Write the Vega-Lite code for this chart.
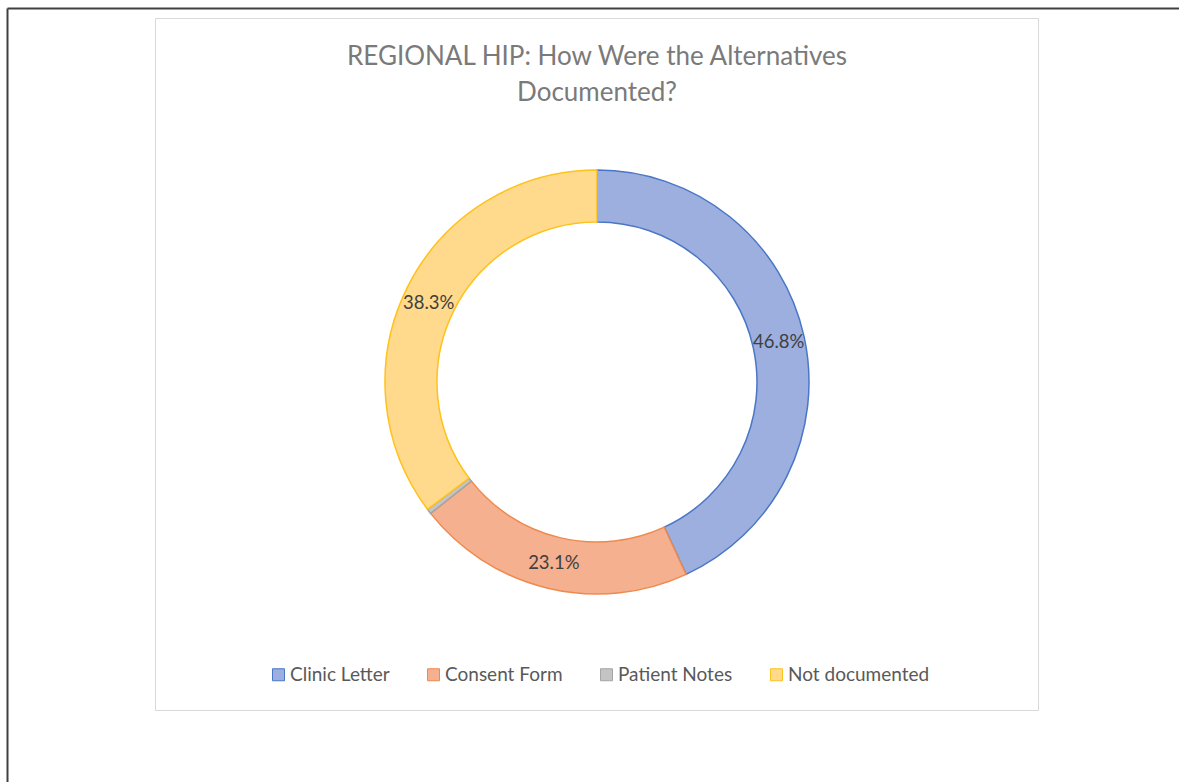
{
  "$schema": "https://vega.github.io/schema/vega-lite/v6.json",
  "autosize": {"type": "none"},
  "padding": {"left": 7, "top": 8, "right": 0, "bottom": 26},
  "width": 1180,
  "height": 748,
  "background": "white",
  "config": {
    "view": {"stroke": null},
    "font": "Lato"
  },
  "title": {
    "text": ["REGIONAL HIP: How Were the Alternatives", "Documented?"],
    "orient": "top",
    "anchor": "middle",
    "frame": "group",
    "baseline": "top",
    "offset": -101,
    "font": "Lato",
    "fontSize": 26,
    "fontWeight": "normal",
    "color": "#7a7a7a",
    "lineHeight": 36
  },
  "data": {
    "values": [
      {"category": "Clinic Letter", "share": 0.468, "rank": 1},
      {"category": "Consent Form", "share": 0.231, "rank": 2},
      {"category": "Patient Notes", "share": 0.004, "rank": 3},
      {"category": "Not documented", "share": 0.383, "rank": 4}
    ]
  },
  "resolve": {
    "scale": {"x": "independent", "y": "independent"},
    "axis": {"x": "independent", "y": "independent"}
  },
  "layer": [
    {
      "mark": {"type": "arc", "innerRadius": 160, "outerRadius": 212, "strokeWidth": 1.5},
      "encoding": {
        "theta": {"field": "share", "type": "quantitative", "stack": true},
        "order": {"field": "rank", "type": "quantitative"},
        "fill": {
          "field": "category",
          "type": "nominal",
          "sort": ["Clinic Letter", "Consent Form", "Patient Notes", "Not documented"],
          "scale": {
            "domain": ["Clinic Letter", "Consent Form", "Patient Notes", "Not documented"],
            "range": ["#9cafdf", "#f4b08f", "#c4c4c4", "#ffd98c"]
          },
          "legend": {
            "orient": "none",
            "direction": "horizontal",
            "legendX": 262,
            "legendY": 657,
            "title": null,
            "symbolType": "square",
            "symbolSize": 144,
            "symbolStrokeWidth": 1,
            "labelFont": "Lato",
            "labelFontSize": 19,
            "labelColor": "#595959",
            "labelOffset": 2,
            "columnPadding": 34
          }
        },
        "stroke": {
          "field": "category",
          "type": "nominal",
          "sort": ["Clinic Letter", "Consent Form", "Patient Notes", "Not documented"],
          "scale": {
            "domain": ["Clinic Letter", "Consent Form", "Patient Notes", "Not documented"],
            "range": ["#4a76c6", "#ee8a4e", "#a5a5a5", "#ffc21a"]
          },
          "legend": {
            "orient": "none",
            "direction": "horizontal",
            "legendX": 262,
            "legendY": 657,
            "title": null,
            "symbolType": "square",
            "symbolSize": 144,
            "symbolStrokeWidth": 1,
            "labelFont": "Lato",
            "labelFontSize": 19,
            "labelColor": "#595959",
            "labelOffset": 2,
            "columnPadding": 34
          }
        }
      }
    },
    {
      "transform": [{"filter": "datum.category != 'Patient Notes'"}],
      "mark": {"type": "text", "radius": 186, "font": "Lato", "fontSize": 18.5, "color": "#404040"},
      "encoding": {
        "theta": {"field": "share", "type": "quantitative", "stack": true},
        "order": {"field": "rank", "type": "quantitative"},
        "text": {"field": "share", "type": "quantitative", "format": ".1%"}
      }
    },
    {
      "mark": {"type": "point", "opacity": 0},
      "encoding": {
        "x": {"datum": 0, "type": "quantitative", "scale": {"domain": [0, 1], "range": [0, 1180]},
          "axis": {"orient": "top", "offset": 0, "domain": true, "domainColor": "#404040", "domainWidth": 2, "ticks": false, "labels": false, "grid": false, "title": null}},
        "y": {"datum": 0, "type": "quantitative", "scale": {"domain": [0, 1], "range": [0, 790]},
          "axis": {"orient": "left", "offset": 0, "domain": true, "domainColor": "#404040", "domainWidth": 2, "ticks": false, "labels": false, "grid": false, "title": null}}
      }
    },
    {
      "mark": {"type": "point", "opacity": 0},
      "encoding": {
        "x": {"datum": 0, "type": "quantitative", "scale": {"domain": [0, 1], "range": [148, 1031]},
          "axis": {"orient": "top", "offset": -10, "domain": true, "domainColor": "#d9d9d9", "domainWidth": 1, "ticks": false, "labels": false, "grid": false, "title": null}},
        "y": {"datum": 0, "type": "quantitative", "scale": {"domain": [0, 1], "range": [10, 702]},
          "axis": {"orient": "left", "offset": -148, "domain": true, "domainColor": "#d9d9d9", "domainWidth": 1, "ticks": false, "labels": false, "grid": false, "title": null}}
      }
    },
    {
      "mark": {"type": "point", "opacity": 0},
      "encoding": {
        "x": {"datum": 0, "type": "quantitative", "scale": {"domain": [0, 1], "range": [148, 1031]},
          "axis": {"orient": "bottom", "offset": -46, "domain": true, "domainColor": "#d9d9d9", "domainWidth": 1, "ticks": false, "labels": false, "grid": false, "title": null}},
        "y": {"datum": 0, "type": "quantitative", "scale": {"domain": [0, 1], "range": [10, 702]},
          "axis": {"orient": "right", "offset": -149, "domain": true, "domainColor": "#d9d9d9", "domainWidth": 1, "ticks": false, "labels": false, "grid": false, "title": null}}
      }
    }
  ]
}
